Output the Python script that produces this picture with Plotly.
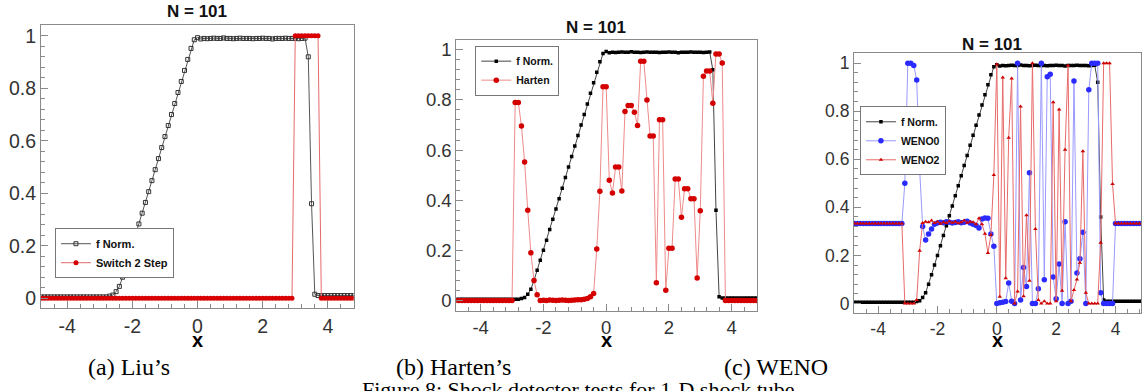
import numpy as np
import plotly.graph_objects as go

# grid of the 1-D shock tube: N = 101 points on [-5, 5]
x_grid = np.round(np.linspace(-5.0, 5.0, 101), 2)

# normalised reference profile (same in all three panels)
f_norm = [
    0.005, 0.005, 0.005, 0.005, 0.005, 0.005, 0.005, 0.005, 0.005, 0.005,
    0.005, 0.005, 0.005, 0.005, 0.005, 0.005, 0.005, 0.005, 0.005, 0.005,
    0.005, 0.005, 0.005,
    0.008, 0.012, 0.025, 0.045, 0.08, 0.12, 0.16, 0.2, 0.24, 0.283,
    0.324, 0.365, 0.406, 0.448, 0.49, 0.532, 0.574, 0.616, 0.658, 0.70,
    0.742, 0.784, 0.826, 0.868, 0.91, 0.952, 0.985,
    0.993,
    0.988, 0.99, 0.989, 0.99, 0.991, 0.99, 0.99, 0.992, 0.99, 0.99,
    0.989, 0.99, 0.991, 0.99, 0.99, 0.99, 0.989, 0.99, 0.99, 0.991,
    0.99, 0.99, 0.988, 0.99, 0.99, 0.99, 0.991, 0.99, 0.99, 0.99,
    0.989, 0.99, 0.991,
    0.92, 0.36, 0.015,
    0.01, 0.01, 0.01, 0.01, 0.01, 0.01, 0.01, 0.01, 0.01, 0.01,
    0.01, 0.01, 0.01, 0.01,
]

# (a) Liu's switch
switch_2_step = [
    0, 0, 0, 0, 0, 0, 0, 0, 0, 0,
    0, 0, 0, 0, 0, 0, 0, 0, 0, 0,
    0, 0, 0, 0, 0, 0, 0, 0, 0, 0,
    0, 0, 0, 0, 0, 0, 0, 0, 0, 0,
    0, 0, 0, 0, 0, 0, 0, 0, 0, 0,
    0, 0, 0, 0, 0, 0, 0, 0, 0, 0,
    0, 0, 0, 0, 0, 0, 0, 0, 0, 0,
    0, 0, 0, 0, 0, 0, 0, 0, 0, 0,
    1, 1, 1, 1, 1, 1, 1, 1,
    0, 0, 0, 0, 0, 0, 0, 0, 0, 0,
    0, 0, 0,
]

# (b) Harten's detector
harten = [
    0.0, 0.0, 0.0, 0.0, 0.0, 0.0, 0.0, 0.0, 0.0, 0.0,
    0.0, 0.0, 0.0, 0.0, 0.0, 0.0, 0.0, 0.0, 0.0, 0.0,
    0.0,
    0.79, 0.79, 0.696, 0.552, 0.36, 0.19, 0.08, 0.023,
    0.0, 0.001, 0.0, 0.002, 0.001, 0.0, 0.001, 0.002, 0.001, 0.0,
    0.001, 0.002, 0.003, 0.003,
    0.005, 0.008, 0.015, 0.028,
    0.205, 0.436, 0.852,
    0.852,
    0.479, 0.429, 0.532, 0.532, 0.437, 0.754, 0.778, 0.778, 0.751, 0.698,
    0.954, 0.954, 0.80, 0.656, 0.656, 0.071, 0.721, 0.721, 0.041, 0.208,
    0.208, 0.484, 0.484, 0.332, 0.446, 0.446, 0.406, 0.406, 0.09, 0.358,
    0.894, 0.915, 0.915, 0.787, 0.983, 0.983, 0.947,
    0.0, 0.0, 0.0, 0.0, 0.0, 0.0, 0.0, 0.0, 0.0, 0.0,
    0.0, 0.0, 0.0,
]

# (c) WENO smoothness-based detectors
weno0 = [
    0.333, 0.333, 0.333, 0.333, 0.333, 0.333, 0.333, 0.333, 0.333, 0.333,
    0.333, 0.333, 0.333, 0.333, 0.333, 0.333, 0.333, 0.333, 0.333,
    0.50, 1.0, 1.0, 0.99, 0.93, 0.556, 0.32, 0.264, 0.289, 0.31, 0.33,
    0.335, 0.338, 0.336, 0.34, 0.338, 0.335, 0.337, 0.34, 0.336, 0.338,
    0.342, 0.335, 0.33, 0.325,
    0.314,
    0.352, 0.356, 0.355,
    0.289, 0.238,
    0.0,
    0.003, 0.005, 0.008, 0.085, 0.01, 0.0, 1.0, 0.015, 0.15, 0.071,
    0.544, 0.0, 0.0, 0.061, 1.0, 0.099, 0.943, 0.954, 0.11, 0.02,
    0.164, 0.0, 0.34, 0.0, 0.01, 0.926, 0.127, 0.186, 0.297, 0.0,
    0.889, 1.0, 1.0, 1.0, 0.045, 0.0, 0.0, 0.0, 0.0,
    0.333, 0.333, 0.333, 0.333, 0.333, 0.333, 0.333, 0.333, 0.333, 0.333,
    0.333,
]

weno2 = [
    0.333, 0.333, 0.333, 0.333, 0.333, 0.333, 0.333, 0.333, 0.333, 0.333,
    0.333, 0.333, 0.333, 0.333, 0.333, 0.333, 0.333, 0.333, 0.333,
    0.0, 0.0, 0.0, 0.0, 0.015, 0.22,
    0.335, 0.34, 0.338, 0.345, 0.335, 0.34, 0.332, 0.338, 0.335, 0.342,
    0.336, 0.34, 0.334, 0.338, 0.345, 0.336, 0.34, 0.338, 0.33,
    0.355, 0.33, 0.29, 0.21, 0.285, 0.535,
    0.995,
    0.028, 0.94, 0.105, 0.69, 0.936, 0.0, 0.05, 0.82, 0.03, 0.367,
    0.095, 1.0, 0.31, 0.015, 0.0, 0.01, 0.0, 0.0, 0.837, 0.01,
    0.807, 0.053, 0.64, 0.99, 0.01, 0.056, 0.1, 0.17, 0.633, 0.045,
    0.0, 0.0, 0.0, 0.0, 0.253, 1.0, 1.0, 1.0, 0.497,
    0.333, 0.333, 0.333, 0.333, 0.333, 0.333, 0.333, 0.333, 0.333, 0.333,
    0.333,
]

x_ticks = [-4, -2, 0, 2, 4]
panel_titles = ["N = 101", "N = 101", "N = 101"]
captions = ["(a) Liu\u2019s", "(b) Harten\u2019s", "(c) WENO"]
figure_caption = "Figure 8: Shock detector tests for 1-D shock tube"

W, H = 1142, 391
SANS = "Liberation Sans, Arial, sans-serif"
SERIF = "Liberation Serif, Times New Roman, serif"
AXIS_GREY = "#8a8a8a"


def px_x(p):
    return p / W


def px_y(p):
    return 1 - p / H


fig = go.Figure()

# ---------- traces ----------
fig.add_trace(go.Scatter(
    x=x_grid, y=f_norm, name="f Norm.", xaxis="x", yaxis="y", legend="legend",
    mode="lines+markers",
    line=dict(color="#555555", width=1),
    marker=dict(symbol="square-open", size=4, color="#333333", line=dict(width=1)),
))
fig.add_trace(go.Scatter(
    x=x_grid, y=switch_2_step, name="Switch 2 Step", xaxis="x", yaxis="y", legend="legend",
    mode="lines+markers",
    line=dict(color="#e56a6a", width=1),
    marker=dict(symbol="circle", size=5, color="#d80000"),
))

fig.add_trace(go.Scatter(
    x=x_grid, y=f_norm, name="f Norm.", xaxis="x2", yaxis="y2", legend="legend2",
    mode="lines+markers",
    line=dict(color="#444444", width=1),
    marker=dict(symbol="square", size=3.5, color="#000000"),
))
fig.add_trace(go.Scatter(
    x=x_grid, y=harten, name="Harten", xaxis="x2", yaxis="y2", legend="legend2",
    mode="lines+markers",
    line=dict(color="#ee8a8a", width=1),
    marker=dict(symbol="circle", size=5.5, color="#d40000"),
))

fig.add_trace(go.Scatter(
    x=x_grid, y=f_norm, name="f Norm.", xaxis="x3", yaxis="y3", legend="legend3",
    mode="lines+markers",
    line=dict(color="#444444", width=1),
    marker=dict(symbol="square", size=3.5, color="#000000"),
))
fig.add_trace(go.Scatter(
    x=x_grid, y=weno0, name="WENO0", xaxis="x3", yaxis="y3", legend="legend3",
    mode="lines+markers",
    line=dict(color="#9a9aff", width=1),
    marker=dict(symbol="circle", size=5.5, color="#2b2bff"),
))
fig.add_trace(go.Scatter(
    x=x_grid, y=weno2, name="WENO2", xaxis="x3", yaxis="y3", legend="legend3",
    mode="lines+markers",
    line=dict(color="#e86a6a", width=1),
    marker=dict(symbol="triangle-up", size=4, color="#cc0000"),
))

# ---------- axes ----------
panels = [
    # x domain px, y domain px (top, bottom), x range, y range, tick font size
    dict(xd=(41, 354), yd=(24, 309), xr=(-4.807, 4.794), yr=(-0.039, 1.0417), fs=19.5),
    dict(xd=(456.7, 757.7), yd=(39, 311.7), xr=(-4.777, 4.809), yr=(-0.0425, 1.0397), fs=18.5),
    dict(xd=(854.7, 1142), yd=(52.3, 314), xr=(-4.815, 4.859), yr=(-0.041, 1.042), fs=17.5),
]

layout_axes = {}
for i, p in enumerate(panels):
    sfx = "" if i == 0 else str(i + 1)
    common = dict(
        showline=True, mirror=True, linecolor=AXIS_GREY, linewidth=1,
        showgrid=False, zeroline=False,
        ticks="inside", tickcolor=AXIS_GREY, ticklen=7, tickwidth=1,
        tickfont=dict(family=SANS, size=p["fs"], color="#333333"),
    )
    layout_axes["xaxis" + sfx] = dict(
        common,
        domain=[px_x(p["xd"][0]), min(1.0, px_x(p["xd"][1]))],
        anchor="y" + sfx,
        range=list(p["xr"]),
        tickmode="array", tickvals=x_ticks,
        ticktext=[str(v) for v in x_ticks],
        minor=dict(tick0=0, dtick=0.4, ticks="inside", ticklen=4, tickcolor=AXIS_GREY),
    )
    layout_axes["yaxis" + sfx] = dict(
        common,
        domain=[px_y(p["yd"][1]), px_y(p["yd"][0])],
        anchor="x" + sfx,
        range=list(p["yr"]),
        tick0=0, dtick=0.2,
        minor=dict(tick0=0, dtick=0.04, ticks="inside", ticklen=4, tickcolor=AXIS_GREY),
    )

legend_style = dict(
    bgcolor="white", bordercolor="#777777", borderwidth=1,
    xanchor="left", yanchor="middle", tracegroupgap=0,
)

fig.update_layout(
    width=W, height=H,
    margin=dict(l=0, r=0, t=0, b=0),
    paper_bgcolor="white", plot_bgcolor="white",
    showlegend=True,
    legend=dict(legend_style, x=px_x(55), y=px_y(253.5),
                font=dict(family=SANS, size=11, color="#111111", weight="bold")),
    legend2=dict(legend_style, x=px_x(475.7), y=px_y(70),
                 font=dict(family=SANS, size=10.5, color="#111111", weight="bold")),
    legend3=dict(legend_style, x=px_x(860.7), y=px_y(140.5),
                 font=dict(family=SANS, size=10.5, color="#111111", weight="bold")),
    **layout_axes,
)

# ---------- text ----------
title_pos = [(197.5, 11), (597, 27), (992.5, 43.7)]
for (cx, cy), t in zip(title_pos, panel_titles):
    fig.add_annotation(text=t, x=px_x(cx), y=px_y(cy), xref="paper", yref="paper",
                       showarrow=False, xanchor="center", yanchor="middle",
                       font=dict(family=SANS, size=17, color="#111111", weight="bold"))

xlabel_pos = [(197.7, 341), (606.7, 341), (998.3, 341)]
for cx, cy in xlabel_pos:
    fig.add_annotation(text="x", x=px_x(cx), y=px_y(cy), xref="paper", yref="paper",
                       showarrow=False, xanchor="center", yanchor="middle",
                       font=dict(family=SANS, size=20, color="#000000", weight="bold"))

caption_pos = [(129, 368), (454, 368), (777, 368)]
for (cx, cy), t in zip(caption_pos, captions):
    fig.add_annotation(text=t, x=px_x(cx), y=px_y(cy), xref="paper", yref="paper",
                       showarrow=False, xanchor="center", yanchor="middle",
                       font=dict(family=SERIF, size=24, color="#000000"))

fig.add_annotation(text=figure_caption, x=px_x(360), y=px_y(376), xref="paper", yref="paper",
                   showarrow=False, xanchor="left", yanchor="top",
                   font=dict(family=SERIF, size=22, color="#000000"))

fig.write_html("out.html")
